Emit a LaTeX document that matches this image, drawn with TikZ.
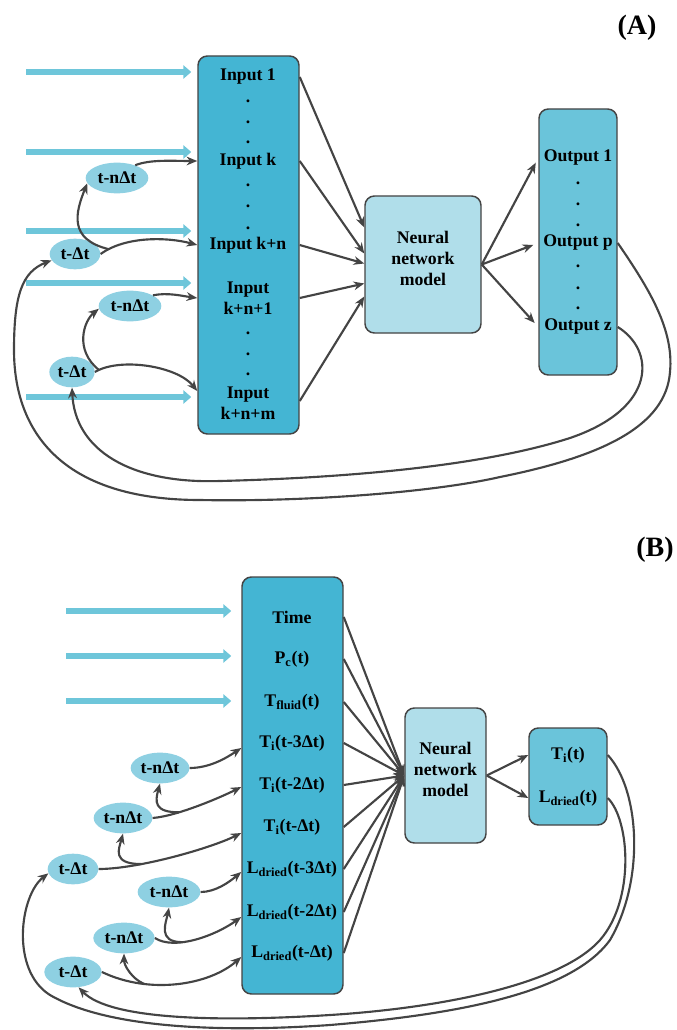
\documentclass[tikz,border=0pt]{standalone}
\usepackage{fontspec}
\setmainfont{Liberation Serif}
\usetikzlibrary{arrows.meta,shapes.geometric,fit,calc}
\definecolor{inblue}{RGB}{68,181,211}
\definecolor{outblue}{RGB}{106,196,218}
\definecolor{nnblue}{RGB}{176,222,234}
\definecolor{lagblue}{RGB}{142,208,226}
\definecolor{feedcyan}{RGB}{110,198,218}
\definecolor{linegray}{RGB}{68,68,68}
\tikzset{
	inbox/.style={draw=linegray, fill=inblue, line width=1.1pt, rounded corners=7pt, inner sep=0pt},
	outbox/.style={inbox, fill=outblue},
	nnbox/.style={inbox, fill=nnblue, align=center},
	row/.style={inner sep=1pt, align=center},
	lag/.style={ellipse, fill=lagblue, inner sep=0pt, minimum height=23pt},
	link/.style={draw=linegray, line width=1.6pt, -{Stealth[length=8pt,width=6.5pt]}},
	inflow/.style={draw=feedcyan, line width=4pt, -{Triangle[length=6pt,width=10pt]}},
	panellabel/.style={font=\fontsize{21}{24}\selectfont\bfseries}
}

\begin{document}
\begin{tikzpicture}[x=0.75pt, y=-0.75pt, font=\fontsize{13.3}{15.5}\selectfont\bfseries]
	\useasboundingbox (0,0) rectangle (677,1030);

	% (A) general scheme
	\node[panellabel] (tagA) at (637,28) {(A)};

	% Blocks
	\node[inbox, fit={(198,56) (299,434)}] (boxA) {};
	\node[nnbox, fit={(365,196) (481,333)}] (nnA) {Neural\\network\\model};
	\node[outbox, fit={(539,109) (617,375)}] (outA) {};

	\node[row] (inA1) at (248,77) {Input 1};
	\node[row] (inAk) at (248,161) {Input k};
	\node[row] (inAkn) at (248,245) {Input k+n};
	\node[row] (inAkn1) at (248,298) {Input\\k+n+1};
	\node[row] (inAknm) at (248,403) {Input\\k+n+m};
	\foreach \y [count=\i] in {101,122,142,185,206,228,333,354,374}
		\node[row] (dotA\i) at (248,\y) {.};

	\node[row] (outA1) at (578,158) {Output 1};
	\node[row] (outAp) at (578,243) {Output p};
	\node[row] (outAz) at (578,327) {Output z};
	\foreach \y [count=\i] in {183,204,225,266,288,308}
		\node[row] (dotOA\i) at (578,\y) {.};

	% Time lags
	\node[lag, minimum width=47pt] (lagA1) at (117,178) {t-nΔt};
	\node[lag, minimum width=38pt] (lagA2) at (75,254) {t-Δt};
	\node[lag, minimum width=47pt] (lagA3) at (130,306) {t-nΔt};
	\node[lag, minimum width=34pt] (lagA4) at (72,372) {t-Δt};

	% Measured inputs
	\foreach \y [count=\i] in {72,152,231,283,397} {
		\coordinate (srcA\i) at (26,\y);
		\draw[inflow, shorten >=4.5pt] (srcA\i) -- (srcA\i -| boxA.west);
	}

	% Inputs to the model
	\draw[link] (boxA.east |- inA1) -- ($(nnA.west)+(0,-37)$);
	\draw[link] (boxA.east |- inAk) -- ($(nnA.west)+(0,-11)$);
	\draw[link] (boxA.east |- inAkn) -- ($(nnA.west)+(0,-1)$);
	\draw[link] (boxA.east |- inAkn1) -- ($(nnA.west)+(0,19)$);
	\draw[link] ($(boxA.east |- inAknm)+(0,-2)$) -- ($(nnA.west)+(0,32)$);

	% Model to outputs
	\foreach \tgt in {outA1,outAp,outAz}
		\draw[link, shorten >=4pt] (nnA.east) -- (\tgt -| outA.west);

	% Lagged values
	\draw[link] (lagA1.35) .. controls +(15,-6) and +(-25,0) .. (boxA.west |- inAk);
	\draw[link] (lagA2.east) .. controls +(25,-18) and +(-30,-8) .. (boxA.west |- inAkn) coordinate[pos=0.1] (splitA2);
	\draw[link] (splitA2) .. controls +(-40,-10) and +(-12,30) .. (lagA1.190);
	\draw[link] (lagA3.25) .. controls +(15,-3) and +(-15,-2) .. (boxA.west |- inAkn1);
	\draw[link] (lagA4.east) .. controls +(25,-15) and +(-20,-25) .. ($(boxA.west |- inAknm)+(0,-12)$) coordinate[pos=0.05] (splitA4);
	\draw[link] (splitA4) .. controls +(-25,-20) and +(-15,12) .. (lagA3.185);

	% Feedback of the outputs
	\draw[link] (outAp -| outA.east) .. controls (650,290) and (674,330) .. (670,372)
		.. controls (666,425) and (605,456) .. (500,477)
		.. controls (430,493) and (300,502) .. (200,500)
		.. controls (60,500) and (14,430) .. (14,350)
		.. controls (14,295) and (22,272) .. (lagA2.195);
	\draw[link] (outAz -| outA.east) .. controls (655,350) and (658,408) .. (570,438)
		.. controls (480,467) and (340,478) .. (220,481)
		.. controls (130,484) and (75,450) .. (lagA4.south);

	% (B) drying model
	\node[panellabel] (tagB) at (655,550) {(B)};

	% Blocks
	\node[inbox, fit={(242,577) (343,994)}] (boxB) {};
	\node[nnbox, fit={(405,708) (486,843)}] (nnB) {Neural\\network\\model};
	\node[outbox, fit={(529,728) (607,825)}] (outB) {};

	\node[row] (inBt) at (292,617) {Time};
	\node[row] (inBp) at (292,659) {P\textsubscript{c}(t)};
	\node[row] (inBf) at (292,702) {T\textsubscript{fluid}(t)};
	\node[row] (inBi3) at (292,743) {T\textsubscript{i}(t-3Δt)};
	\node[row] (inBi2) at (292,785) {T\textsubscript{i}(t-2Δt)};
	\node[row] (inBi1) at (292,827) {T\textsubscript{i}(t-Δt)};
	\node[row] (inBl3) at (292,869) {L\textsubscript{dried}(t-3Δt)};
	\node[row] (inBl2) at (292,912) {L\textsubscript{dried}(t-2Δt)};
	\node[row] (inBl1) at (292,953) {L\textsubscript{dried}(t-Δt)};

	\node[row] (outBi) at (568,755) {T\textsubscript{i}(t)};
	\node[row] (outBl) at (568,798) {L\textsubscript{dried}(t)};

	% Time lags
	\node[lag, minimum width=44pt] (lagB1) at (160,768) {t-nΔt};
	\node[lag, minimum width=44pt] (lagB2) at (123,818) {t-nΔt};
	\node[lag, minimum width=38pt] (lagB3) at (73,869) {t-Δt};
	\node[lag, minimum width=47pt] (lagB4) at (169,892) {t-nΔt};
	\node[lag, minimum width=46pt] (lagB5) at (124,938) {t-nΔt};
	\node[lag, minimum width=43pt] (lagB6) at (73,972) {t-Δt};

	% Measured inputs
	\foreach \y [count=\i] in {611,656,701} {
		\coordinate (srcB\i) at (66,\y);
		\draw[inflow, shorten >=7.5pt] (srcB\i) -- (srcB\i -| boxB.west);
	}

	% Inputs to the model, model to outputs
	\foreach \src in {inBt,inBp,inBf,inBi3,inBi2,inBi1,inBl3,inBl2,inBl1}
		\draw[link] (boxB.east |- \src) -- (nnB.west);
	\foreach \tgt in {outBi,outBl}
		\draw[link] (nnB.east) -- (\tgt -| outB.west);

	% Lagged values
	\draw[link] (lagB1.east) .. controls +(20,0) and +(-15,10) .. ($(boxB.west |- inBi3)+(0,5)$);
	\draw[link] (lagB2.east) .. controls +(25,-2) and +(-20,10) .. ($(boxB.west |- inBi2)+(0,2)$) coordinate[pos=0.3] (splitB2);
	\draw[link] (splitB2) .. controls +(-25,0) and +(-5,18) .. (lagB1.south);
	\draw[link] (lagB3.east) .. controls +(40,0) and +(-30,15) .. ($(boxB.west |- inBi1)+(0,6)$) coordinate[pos=0.3] (splitB3);
	\draw[link] (splitB3) .. controls +(-30,0) and +(-4,15) .. (lagB2.south);
	\draw[link] (lagB4.east) .. controls +(15,0) and +(-12,10) .. ($(boxB.west |- inBl3)+(0,3)$);
	\draw[link] (lagB5.east) .. controls +(20,13) and +(-25,18) .. ($(boxB.west |- inBl2)+(0,5)$) coordinate[pos=0.35] (splitB5);
	\draw[link] (splitB5) .. controls +(-25,0) and +(-3,15) .. (lagB4.south);
	\draw[link] (lagB6.east) .. controls +(48,23) and +(-32,28) .. ($(boxB.west |- inBl1)+(0,4)$) coordinate[pos=0.28] (splitB6);
	\draw[link] (splitB6) .. controls +(-12,-5) and +(0,12) .. (lagB5.south);

	% Feedback of the outputs
	\draw[link] (outBi -| outB.east) .. controls (640,790) and (645,880) .. (610,940)
		.. controls (570,995) and (450,1015) .. (330,1025)
		.. controls (230,1032) and (110,1030) .. (50,995)
		.. controls (10,970) and (20,895) .. (lagB3.190);
	\draw[link] (outBl -| outB.east) .. controls (630,820) and (635,900) .. (600,940)
		.. controls (560,985) and (440,1008) .. (330,1015)
		.. controls (220,1022) and (110,1020) .. (lagB6.-70);
\end{tikzpicture}
\end{document}
